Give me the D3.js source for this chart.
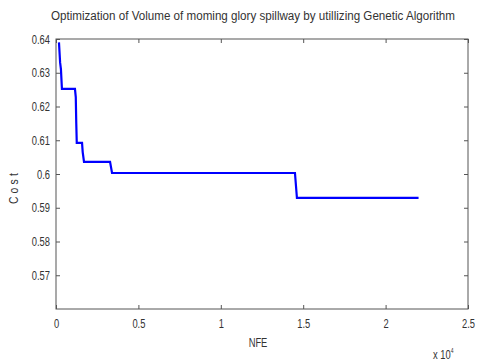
<!DOCTYPE html>
<html><head><meta charset="utf-8">
<script src="https://cdn.jsdelivr.net/npm/d3@7"></script>
<style>
body{margin:0;background:#fff;}
text{font-family:"Liberation Sans",Arial,sans-serif;fill:#333;}
</style></head><body>
<svg id="c" width="477" height="362"></svg>
<script>
const title = "Optimization of Volume of moming glory spillway by utillizing Genetic Algorithm";
const nfe  = [180, 250, 300, 360, 1150, 1200, 1230, 1260, 1580, 1620, 1700, 3280, 3400, 14500, 14620, 22000];
const cost = [0.6390, 0.6330, 0.6310, 0.6252, 0.6252, 0.6228, 0.6150, 0.6092, 0.6092, 0.6065, 0.6036, 0.6036, 0.6003, 0.6003, 0.5929, 0.5929];
const xTicks = [0, 0.5, 1, 1.5, 2, 2.5];
const yTicks = [0.57, 0.58, 0.59, 0.6, 0.61, 0.62, 0.63, 0.64];

const svg = d3.select("#c");
const L=56, R=468, T=39, B=309;
const x = d3.scaleLinear().domain([0,25000]).range([L,R]);
const y = d3.scaleLinear().domain([0.56,0.64]).range([B,T]);
const ax = "#555";
const SX = 0.72;

svg.append("rect").attr("x",L).attr("y",T).attr("width",R-L).attr("height",B-T)
  .attr("fill","none").attr("stroke",ax).attr("stroke-width",1);

const gx = svg.append("g").attr("transform",`translate(0,${B})`)
  .call(d3.axisBottom(x).tickValues(xTicks.map(v=>v*1e4)).tickSizeInner(-4).tickSizeOuter(0).tickPadding(10)
    .tickFormat(d=>String(d/1e4)));
const gxt = svg.append("g").attr("transform",`translate(0,${T})`)
  .call(d3.axisTop(x).tickValues(xTicks.map(v=>v*1e4)).tickSizeInner(-4).tickSizeOuter(0).tickFormat(""));
const gy = svg.append("g").attr("transform",`translate(${L},0)`)
  .call(d3.axisLeft(y).tickValues(yTicks).tickSizeInner(-4).tickSizeOuter(0).tickPadding(6)
    .tickFormat(d=>String(+d.toFixed(2))));
const gyr = svg.append("g").attr("transform",`translate(${R},0)`)
  .call(d3.axisRight(y).tickValues(yTicks).tickSizeInner(-4).tickSizeOuter(0).tickFormat(""));
[gx,gxt,gy,gyr].forEach(g=>{
  g.select(".domain").remove();
  g.selectAll("line").attr("stroke",ax);
  g.selectAll("text").attr("font-size",13).style("fill","#333").attr("font-family",null);
});
gx.selectAll("text").each(function(){
  const t=d3.select(this); const yy=+t.attr("y");
  t.attr("y",null).attr("transform",`translate(0,${yy}) scale(${SX},1)`);
});
gy.selectAll("text").each(function(){
  const t=d3.select(this); const xx=+t.attr("x");
  t.attr("x",null).attr("transform",`translate(${xx},0) scale(${SX},1)`);
});

const pts = nfe.map((v,i)=>[v,cost[i]]);
svg.append("path").datum(pts)
  .attr("d", d3.line().x(d=>x(d[0])).y(d=>y(d[1])))
  .attr("fill","none").attr("stroke","#0000ff").attr("stroke-width",2.2);

svg.append("text").attr("x",253).attr("y",20).attr("text-anchor","middle")
  .attr("font-size",12).attr("textLength",404).attr("lengthAdjust","spacingAndGlyphs").text(title);
svg.append("text").attr("transform",`translate(258,347) scale(${SX},1)`).attr("text-anchor","middle").attr("font-size",13).text("NFE");
svg.append("text").attr("transform","translate(18,187) rotate(-90) scale(0.8,1)").attr("text-anchor","middle")
  .attr("font-size",13).attr("letter-spacing",4).text("Cost");
const ex = svg.append("text").attr("transform",`translate(433,359) scale(${SX},1)`).attr("font-size",13);
ex.append("tspan").text("x 10");
ex.append("tspan").attr("dy",-6).attr("font-size",7).text("4");
</script></body></html>
